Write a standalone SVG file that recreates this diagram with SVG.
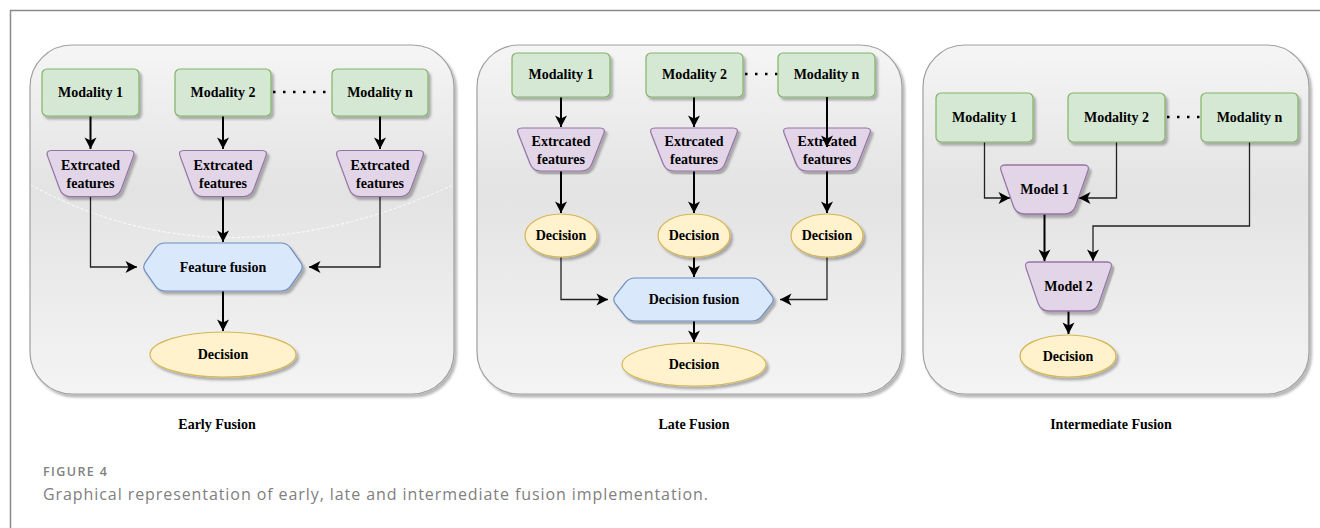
<svg xmlns="http://www.w3.org/2000/svg" xmlns:xlink="http://www.w3.org/1999/xlink" width="1320" height="528" viewBox="0 0 1320 528">
<defs>
<linearGradient id="panelGrad" x1="0" y1="0" x2="0" y2="1">
<stop offset="0" stop-color="#f5f5f5"/>
<stop offset="0.42" stop-color="#e3e3e3"/>
<stop offset="1" stop-color="#f4f4f4"/>
</linearGradient>
<filter id="sh" x="-10%" y="-10%" width="130%" height="140%">
<feDropShadow dx="2.5" dy="3" stdDeviation="0.8" flood-color="#000" flood-opacity="0.28"/>
</filter>
<marker id="ah" viewBox="-12 -7 13 14" refX="0" refY="0" markerWidth="13" markerHeight="14" markerUnits="userSpaceOnUse" orient="auto">
<path d="M0,0 L-11.5,-6 L-8.5,0 L-11.5,6 Z" fill="#000"/>
</marker>
<path id="trap" d="M -39,-23 L 39,-23 Q 45,-23 42.9,-17.4 L 30.8,15.5 Q 28,23 20,23 L -20,23 Q -28,23 -30.8,15.5 L -42.9,-17.4 Q -45,-23 -39,-23 Z"/>
<path id="hex" d="M -58,-24 L 58,-24 Q 64,-24 67.5,-19.1 L 77.5,-4.9 Q 81,0 77.5,4.9 L 67.5,19.1 Q 64,24 58,24 L -58,24 Q -64,24 -67.5,19.1 L -77.5,4.9 Q -81,0 -77.5,-4.9 L -67.5,-19.1 Q -64,-24 -58,-24 Z"/>
</defs>
<style>
.panel{fill:url(#panelGrad);stroke:#a0a0a0;stroke-width:1.2}
.mod{fill:#d5e8d4;stroke:#82b366;stroke-width:1.2}
.tr{fill:#e1d5e7;stroke:#9673a6;stroke-width:1.2}
.hx{fill:#dae8fc;stroke:#6c8ebf;stroke-width:1.2}
.dec{fill:#fff2cc;stroke:#d6b656;stroke-width:1.2}
.lbl{font-family:"Liberation Serif","Times New Roman",serif;font-weight:bold;font-size:14px;fill:#000;text-anchor:middle}
.ttl{font-family:"Liberation Serif","Times New Roman",serif;font-weight:bold;font-size:14px;fill:#000;text-anchor:middle}
.thick{fill:none;stroke:#000;stroke-width:2;marker-end:url(#ah)}
.thin{fill:none;stroke:#222;stroke-width:1.3;marker-end:url(#ah)}
.dots{fill:none;stroke:#000;stroke-width:2.5;stroke-dasharray:2.5 7.5}
.cap1{font-family:"Open Sans","Noto Sans",sans-serif;font-size:12.5px;font-weight:600;fill:#808080}
.cap2{font-family:"Open Sans","Noto Sans",sans-serif;font-size:16px;fill:#808080}
</style>
<rect x="0" y="0" width="1320" height="528" fill="#fff"/>
<path d="M10.5,528 V10.5 H1320" fill="none" stroke="#8a8a8a" stroke-width="1.5"/>

<!-- panels -->
<g id="panel-early">
<rect class="panel" x="30" y="45" width="424" height="349" rx="42" filter="url(#sh)"/>
<path d="M31,185 Q223,290 453,185" fill="none" stroke="#ffffff" stroke-width="1" stroke-dasharray="3 2" opacity="0.9"/>
</g>
<g id="panel-late">
<rect class="panel" x="477" y="45" width="425" height="349" rx="42" filter="url(#sh)"/>
</g>
<g id="panel-intermediate">
<rect class="panel" x="923" y="45" width="386" height="349" rx="42" filter="url(#sh)"/>
</g>

<!-- connectors -->
<g id="connectors">
<path class="dots" d="M273,92 H332"/>
<path class="dots" d="M745,74 H778"/>
<path class="dots" d="M1167,117 H1201"/>
<!-- early -->
<path class="thick" d="M90.5,116 V149"/>
<path class="thick" d="M223,116 V149"/>
<path class="thick" d="M380,116 V149"/>
<path class="thin" d="M90.5,197 V267 H137"/>
<path class="thick" d="M223,197 V242"/>
<path class="thin" d="M380,197 V267 H309"/>
<path class="thick" d="M223,291 V331"/>
<!-- late -->
<path class="thick" d="M561,97 V127"/>
<path class="thick" d="M694,97 V127"/>
<path class="thick" d="M827,171 V213"/>
<path class="thick" d="M561,171 V213"/>
<path class="thick" d="M694,171 V213"/>
<path class="thin" d="M561,257 V299.5 H608"/>
<path class="thick" d="M694,257 V277"/>
<path class="thin" d="M827,257 V299.5 H780"/>
<path class="thick" d="M694,321 V342"/>
<!-- intermediate -->
<path class="thin" d="M984.5,142 V198 H1010"/>
<path class="thin" d="M1116.5,142 V198 H1079"/>
<path class="thick" d="M1044.5,214 V261"/>
<path class="thin" d="M1249.5,142 V226 H1093 V261"/>
<path class="thick" d="M1068.5,311 V334"/>
</g>

<!-- Early fusion nodes -->
<g id="e-mod1"><rect class="mod" x="42" y="69" width="97" height="47" rx="5" filter="url(#sh)"/><text class="lbl" x="90.5" y="97">Modality 1</text></g>
<g id="e-mod2"><rect class="mod" x="175" y="69" width="96" height="47" rx="5" filter="url(#sh)"/><text class="lbl" x="223" y="97">Modality 2</text></g>
<g id="e-modn"><rect class="mod" x="332" y="69" width="96" height="47" rx="5" filter="url(#sh)"/><text class="lbl" x="380" y="97">Modality n</text></g>
<g id="e-feat1"><use href="#trap" class="tr" transform="translate(90.5,173.5)" filter="url(#sh)"/><text class="lbl" x="90.5" y="170">Extrcated</text><text class="lbl" x="90.5" y="188">features</text></g>
<g id="e-feat2"><use href="#trap" class="tr" transform="translate(223,173.5)" filter="url(#sh)"/><text class="lbl" x="223" y="170">Extrcated</text><text class="lbl" x="223" y="188">features</text></g>
<g id="e-featn"><use href="#trap" class="tr" transform="translate(380,173.5)" filter="url(#sh)"/><text class="lbl" x="380" y="170">Extrcated</text><text class="lbl" x="380" y="188">features</text></g>
<g id="e-fusion"><use href="#hex" class="hx" transform="translate(223,267)" filter="url(#sh)"/><text class="lbl" x="223" y="272">Feature fusion</text></g>
<g id="e-decision"><ellipse class="dec" cx="223" cy="354.5" rx="73" ry="22.5" filter="url(#sh)"/><text class="lbl" x="223" y="359">Decision</text></g>

<!-- Late fusion nodes -->
<g id="l-mod1"><rect class="mod" x="512" y="53" width="98" height="44" rx="5" filter="url(#sh)"/><text class="lbl" x="561" y="79">Modality 1</text></g>
<g id="l-mod2"><rect class="mod" x="646" y="53" width="97" height="44" rx="5" filter="url(#sh)"/><text class="lbl" x="694.5" y="79">Modality 2</text></g>
<g id="l-modn"><rect class="mod" x="778" y="53" width="97" height="44" rx="5" filter="url(#sh)"/><text class="lbl" x="826.5" y="79">Modality n</text></g>
<g id="l-feat1"><use href="#trap" class="tr" transform="translate(561,149.5) scale(1,0.935)" filter="url(#sh)"/><text class="lbl" x="561" y="146">Extrcated</text><text class="lbl" x="561" y="164">features</text></g>
<g id="l-feat2"><use href="#trap" class="tr" transform="translate(694,149.5) scale(1,0.935)" filter="url(#sh)"/><text class="lbl" x="694" y="146">Extrcated</text><text class="lbl" x="694" y="164">features</text></g>
<g id="l-featn"><use href="#trap" class="tr" transform="translate(827,149.5) scale(1,0.935)" filter="url(#sh)"/><text class="lbl" x="827" y="146">Extrcated</text><text class="lbl" x="827" y="164">features</text></g>
<g id="l-dec1"><ellipse class="dec" cx="561" cy="235.5" rx="36" ry="21.5" filter="url(#sh)"/><text class="lbl" x="561" y="240">Decision</text></g>
<g id="l-dec2"><ellipse class="dec" cx="694" cy="235.5" rx="36" ry="21.5" filter="url(#sh)"/><text class="lbl" x="694" y="240">Decision</text></g>
<g id="l-decn"><ellipse class="dec" cx="827" cy="235.5" rx="36" ry="21.5" filter="url(#sh)"/><text class="lbl" x="827" y="240">Decision</text></g>
<g id="l-fusion"><use href="#hex" class="hx" transform="translate(693.5,299.5) scale(1.006,0.895)" filter="url(#sh)"/><text class="lbl" x="694" y="304">Decision fusion</text></g>
<g id="l-decision"><ellipse class="dec" cx="694" cy="364.5" rx="72" ry="21.5" filter="url(#sh)"/><text class="lbl" x="694" y="369">Decision</text></g>
<path class="thick" d="M827,97 V147"/>

<!-- Intermediate fusion nodes -->
<g id="i-mod1"><rect class="mod" x="936" y="93" width="97" height="49" rx="5" filter="url(#sh)"/><text class="lbl" x="984.5" y="122">Modality 1</text></g>
<g id="i-mod2"><rect class="mod" x="1068" y="93" width="97" height="49" rx="5" filter="url(#sh)"/><text class="lbl" x="1116.5" y="122">Modality 2</text></g>
<g id="i-modn"><rect class="mod" x="1201" y="93" width="97" height="49" rx="5" filter="url(#sh)"/><text class="lbl" x="1249.5" y="122">Modality n</text></g>
<g id="i-model1"><use href="#trap" class="tr" transform="translate(1044.5,189.5) scale(1.01,1.065)" filter="url(#sh)"/><text class="lbl" x="1044.5" y="194">Model 1</text></g>
<g id="i-model2"><use href="#trap" class="tr" transform="translate(1068.5,286.5) scale(0.99,1.065)" filter="url(#sh)"/><text class="lbl" x="1068.5" y="291">Model 2</text></g>
<g id="i-decision"><ellipse class="dec" cx="1068" cy="356" rx="48" ry="21" filter="url(#sh)"/><text class="lbl" x="1068" y="361">Decision</text></g>

<!-- titles and caption -->
<text class="ttl" x="217" y="429">Early Fusion</text>
<text class="ttl" x="694" y="429">Late Fusion</text>
<text class="ttl" x="1111" y="429">Intermediate Fusion</text>
<text class="cap1" x="43" y="476" textLength="64" lengthAdjust="spacing">FIGURE 4</text>
<text class="cap2" x="43" y="500" textLength="665" lengthAdjust="spacing">Graphical representation of early, late and intermediate fusion implementation.</text>
</svg>
